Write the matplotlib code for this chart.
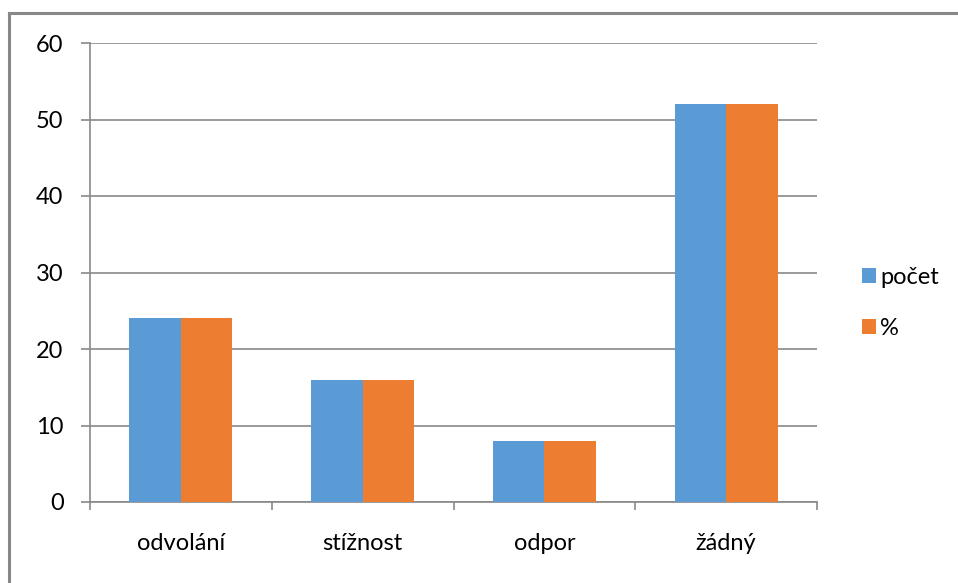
import numpy as np
import matplotlib.pyplot as plt
from matplotlib.lines import Line2D

categories = ['odvolání', 'stížnost', 'odpor', 'žádný']
pocet = [24, 16, 8, 52]
procenta = [24, 16, 8, 52]
series_names = ['počet', '%']

plt.rcParams['font.family'] = ['Lato', 'DejaVu Sans']
fs = 17

fig = plt.figure(figsize=(9.58, 5.83), dpi=100)
ax = fig.add_axes([90 / 958, 1 - 502 / 583, (817 - 90) / 958, (502 - 43) / 583])

x = np.arange(len(categories))
w = 0.283
ax.bar(x - w / 2, pocet, w, color='#5B9BD5', label=series_names[0], zorder=3)
ax.bar(x + w / 2, procenta, w, color='#ED7D31', label=series_names[1], zorder=3)

grid_c = '#898989'
ax.set_xlim(-0.5, len(categories) - 0.5)
ax.set_ylim(0, 60)
ax.set_yticks(np.arange(0, 61, 10))
ax.yaxis.grid(True, color=grid_c, lw=1.2, zorder=0)
ax.set_xticks(x)
ax.set_xticklabels(categories)
ax.set_xticks(np.arange(-0.5, len(categories)), minor=True)
ax.tick_params(axis='x', which='major', length=0, pad=22, labelsize=fs)
ax.tick_params(axis='x', which='minor', length=6, width=1.2, color=grid_c, direction='out')
ax.tick_params(axis='y', length=6.5, width=1.2, color=grid_c, pad=12.5, labelsize=fs)

for side in ['top', 'right']:
    ax.spines[side].set_visible(False)
for side in ['left', 'bottom']:
    ax.spines[side].set_color(grid_c)
    ax.spines[side].set_linewidth(1.2)

fig.legend(loc='center left', bbox_to_anchor=(853 / 958, 1 - 303 / 583),
           frameon=False, fontsize=fs, handlelength=0.56, handleheight=0.56,
           handletextpad=0.2, labelspacing=1.27, borderaxespad=0)

# outer chart frame (only top and left are visible in the crop)
fig.add_artist(Line2D([8.5 / 958, 8.5 / 958], [0, 1 - 13 / 583], color='#888888', lw=2.2))
fig.add_artist(Line2D([8.5 / 958, 1], [1 - 13 / 583, 1 - 13 / 583], color='#888888', lw=2.2))

fig.savefig('out.png', dpi=100)
